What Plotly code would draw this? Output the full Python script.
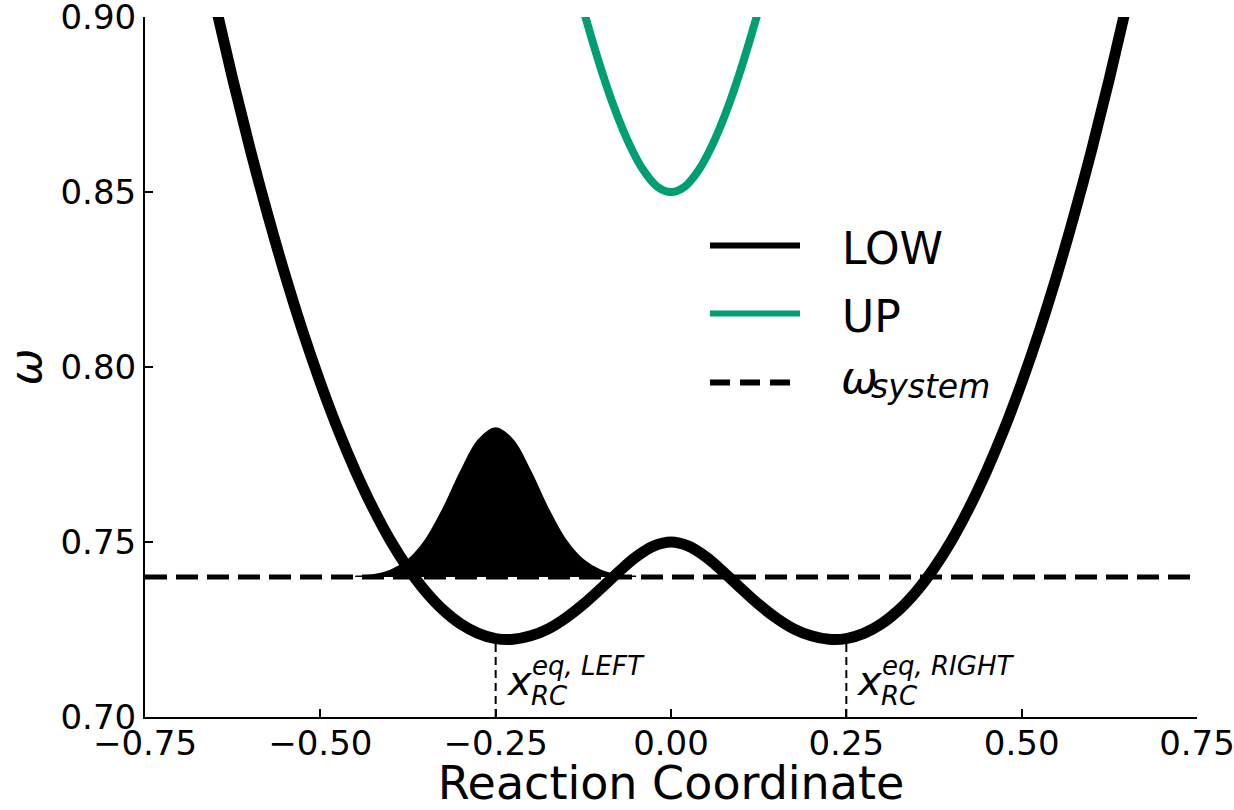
import plotly.graph_objects as go

# ---------------- data ----------------
low_x = [-0.675, -0.65, -0.625, -0.60, -0.575, -0.55, -0.525, -0.50, -0.475, -0.45, -0.425, -0.40,
         -0.375, -0.35, -0.325, -0.30, -0.275, -0.25, -0.225, -0.20, -0.175, -0.15, -0.125, -0.10,
         -0.075, -0.05, -0.025, 0.0, 0.025, 0.05, 0.075, 0.10, 0.125, 0.15, 0.175, 0.20, 0.225,
         0.25, 0.275, 0.30, 0.325, 0.35, 0.375, 0.40, 0.425, 0.45, 0.475, 0.50, 0.525, 0.55,
         0.575, 0.60, 0.625, 0.65, 0.675]
low_y = [0.9266, 0.9038, 0.8823, 0.8622, 0.8435, 0.8261, 0.8101, 0.7955, 0.7822, 0.7703, 0.7597, 0.7504,
         0.7425, 0.7359, 0.7306, 0.7266, 0.7239, 0.7224, 0.7222, 0.7232, 0.7252, 0.7283, 0.7322, 0.7367,
         0.7414, 0.7457, 0.7488, 0.7500, 0.7488, 0.7457, 0.7414, 0.7367, 0.7322, 0.7283, 0.7252, 0.7232, 0.7222,
         0.7224, 0.7239, 0.7266, 0.7306, 0.7359, 0.7425, 0.7504, 0.7597, 0.7703, 0.7822, 0.7955, 0.8101, 0.8261,
         0.8435, 0.8622, 0.8823, 0.9038, 0.9266]

up_x = [-0.13, -0.12, -0.10, -0.08, -0.06, -0.04, -0.02, 0.0, 0.02, 0.04, 0.06, 0.08, 0.10, 0.12, 0.13]
up_y = [0.9058, 0.8986, 0.8853, 0.8736, 0.8639, 0.8564, 0.8516, 0.8500, 0.8516, 0.8564, 0.8639, 0.8736,
        0.8853, 0.8986, 0.9058]

omega_system = 0.74
axis_x = [-0.75, 0.75]

gauss_x = [-0.45, -0.425, -0.40, -0.375, -0.35, -0.325, -0.30, -0.275, -0.25, -0.225, -0.20, -0.175,
           -0.15, -0.125, -0.10, -0.075, -0.05]
gauss_y = [0.7402, 0.7406, 0.7419, 0.7449, 0.7506, 0.7595, 0.7701, 0.7791, 0.7826, 0.7791, 0.7701, 0.7595,
           0.7506, 0.7449, 0.7419, 0.7406, 0.7402]

eq_x = [-0.25, 0.25]
eq_labels = ["LEFT", "RIGHT"]
eq_bottom = 0.70
eq_top = 0.7224

x_ticks = [-0.75, -0.50, -0.25, 0.0, 0.25, 0.50, 0.75]
y_ticks = [0.70, 0.75, 0.80, 0.85, 0.90]

legend_names = ["LOW", "UP", "<i>ω</i>"]
legend_subs = ["", "", "<i>system</i>"]

FONT = "DejaVu Sans"
GREEN = "#009E73"

fig = go.Figure()

# gaussian fill (base then curve filled to it)
fig.add_trace(go.Scatter(x=gauss_x, y=[omega_system] * len(gauss_x), mode="lines",
                         line=dict(color="black", width=0), hoverinfo="skip", showlegend=False))
fig.add_trace(go.Scatter(x=gauss_x, y=gauss_y, mode="lines", line=dict(color="black", width=1.5, shape="spline"),
                         fill="tonexty", fillcolor="black", showlegend=False))

# omega_system dashed line
fig.add_trace(go.Scatter(x=axis_x, y=[omega_system, omega_system], mode="lines",
                         line=dict(color="black", width=5, dash="22px,9px"), showlegend=False))

# vertical eq lines
for xe in eq_x:
    fig.add_trace(go.Scatter(x=[xe, xe], y=[eq_bottom, eq_top], mode="lines",
                             line=dict(color="black", width=2, dash="8px,5px"), showlegend=False))

# LOW and UP surfaces
fig.add_trace(go.Scatter(x=low_x, y=low_y, mode="lines", line=dict(color="black", width=11, shape="spline"),
                         showlegend=False))
fig.add_trace(go.Scatter(x=up_x, y=up_y, mode="lines", line=dict(color=GREEN, width=8, shape="spline"),
                         showlegend=False))

# ---- manual legend (paper coords) ----
def px2paper_x(px):
    return (px - 145) / 1052.0

def px2paper_y(py):
    return (717 - py) / 700.0

leg_rows = [245.5, 313.5, 382.5]
leg_styles = [dict(color="black", width=6), dict(color=GREEN, width=6),
              dict(color="black", width=6, dash="20px,10px")]
for row, st, name, sub in zip(leg_rows, leg_styles, legend_names, legend_subs):
    fig.add_shape(type="line", xref="paper", yref="paper",
                  x0=px2paper_x(710), x1=px2paper_x(800), y0=px2paper_y(row), y1=px2paper_y(row),
                  line=st)
    if sub:
        fig.add_annotation(xref="paper", yref="paper", x=px2paper_x(839), y=px2paper_y(377.5),
                           text=name, showarrow=False, xanchor="left", yanchor="middle",
                           font=dict(family=FONT, size=44, color="black"))
        fig.add_annotation(xref="paper", yref="paper", x=px2paper_x(869), y=px2paper_y(386),
                           text=sub, showarrow=False, xanchor="left", yanchor="middle",
                           font=dict(family=FONT, size=33, color="black"))
    else:
        fig.add_annotation(xref="paper", yref="paper", x=px2paper_x(840), y=px2paper_y(row + 3),
                           text=name, showarrow=False, xanchor="left", yanchor="middle",
                           font=dict(family=FONT, size=44, color="black"))

# ---- eq annotations ----
for xe, lab in zip(eq_x, eq_labels):
    fig.add_annotation(x=xe, y=0.7103, text="<i>x</i>", showarrow=False, xanchor="left", yanchor="middle",
                       xshift=8, font=dict(family=FONT, size=40, color="black"))
    fig.add_annotation(x=xe, y=0.7146, text="<i>eq, %s</i>" % lab, showarrow=False, xanchor="left",
                       yanchor="middle", xshift=34, font=dict(family=FONT, size=26, color="black"))
    fig.add_annotation(x=xe, y=0.7060, text="<i>RC</i>", showarrow=False, xanchor="left",
                       yanchor="middle", xshift=33, font=dict(family=FONT, size=26, color="black"))

fig.update_layout(
    width=1234, height=810,
    margin=dict(l=145, r=37, t=17, b=93),
    paper_bgcolor="white", plot_bgcolor="white",
    font=dict(family=FONT, color="black"),
    showlegend=False,
)
fig.update_xaxes(
    range=[-0.75, 0.75], showgrid=False, zeroline=False, automargin=False,
    showline=True, linecolor="black", linewidth=2,
    ticks="inside", ticklen=8, tickwidth=1.5, tickcolor="black",
    tickvals=x_ticks, ticktext=[("%.2f" % v).replace("-", "\u2212") for v in x_ticks],
    tickfont=dict(family=FONT, size=34, color="black"), ticklabeloverflow="allow",
    ticklabelstandoff=-5,
    title=dict(text="Reaction Coordinate", font=dict(family=FONT, size=46, color="black"), standoff=7),
)
fig.update_yaxes(
    range=[0.70, 0.90], showgrid=False, zeroline=False, automargin=False,
    showline=True, linecolor="black", linewidth=2,
    ticks="inside", ticklen=8, tickwidth=1.5, tickcolor="black",
    tickvals=y_ticks, ticktext=["%.2f" % v for v in y_ticks],
    tickfont=dict(family=FONT, size=34, color="black"), ticklabeloverflow="allow",
    title=dict(text="<i>ω</i>", font=dict(family=FONT, size=44, color="black"), standoff=12),
)

fig.write_html("out.html")
